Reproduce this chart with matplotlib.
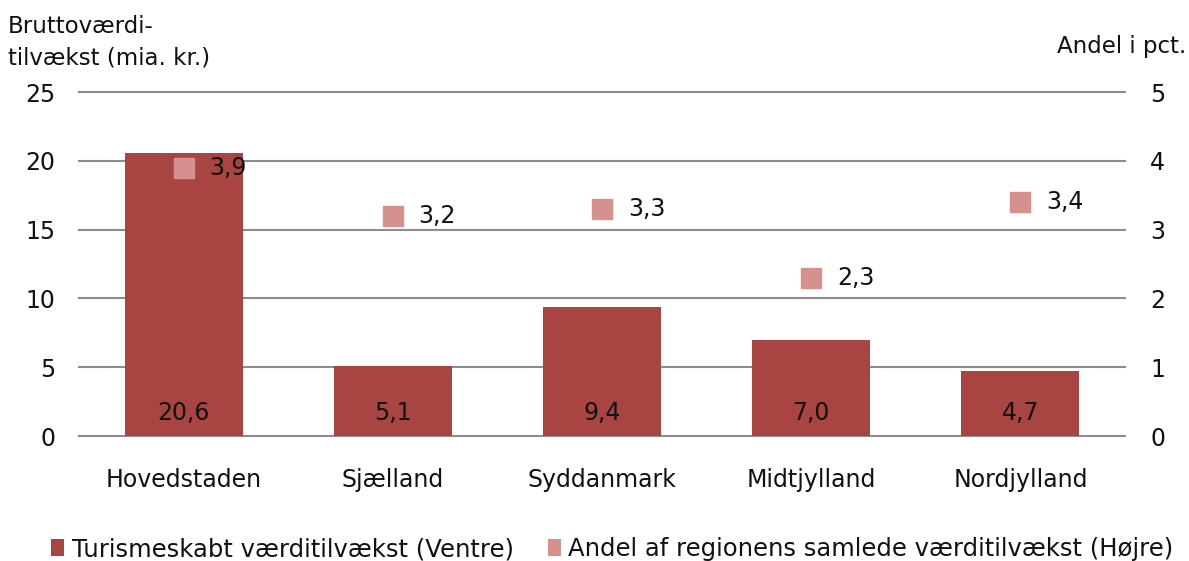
import matplotlib
matplotlib.use("Agg")
import matplotlib.pyplot as plt
from matplotlib.patches import Patch

categories = ["Hovedstaden", "Sjælland", "Syddanmark", "Midtjylland", "Nordjylland"]
value_bn = [20.6, 5.1, 9.4, 7.0, 4.7]
share_pct = [3.9, 3.2, 3.3, 2.3, 3.4]
left_ticks = [0, 5, 10, 15, 20, 25]
right_ticks = [0, 1, 2, 3, 4, 5]

plt.rcParams['font.family'] = ['DejaVu Sans']
FS = 17
bar_color = "#A84542"
mk_color = "#D6908E"
txt_color = "#111111"

W, H = 1189, 561
fig = plt.figure(figsize=(W / 100, H / 100), dpi=100)
ax = fig.add_axes([79 / W, 1 - 436 / H, (1125 - 79) / W, (436 - 92) / H])
ax2 = ax.twinx()

x = list(range(len(categories)))
ax.bar(x, value_bn, width=0.565, color=bar_color, zorder=3)
ax.set_xlim(-0.5, len(categories) - 0.5)
ax.set_ylim(0, 25)
ax.set_yticks(left_ticks)
ax.set_yticklabels([str(t) for t in left_ticks])
ax.yaxis.grid(True, color="#8c8c8c", linewidth=1.5, zorder=0)
for gl in ax.get_ygridlines():
    gl.set_clip_on(False)
ax.set_axisbelow(True)
for s in ax.spines.values():
    s.set_visible(False)
for s in ax2.spines.values():
    s.set_visible(False)
ax.tick_params(axis='y', length=0, labelsize=FS, pad=17, labelcolor=txt_color)
ax.tick_params(axis='x', length=0, labelsize=FS, pad=23, labelcolor=txt_color)
ax.set_xticks(x)
ax.set_xticklabels(categories)

for xi, v in zip(x, value_bn):
    ax.text(xi, 1.7, f"{v:.1f}".replace(".", ","), ha="center", va="center",
            fontsize=FS, color=txt_color, zorder=5)

ax2.set_ylim(0, 5)
ax2.set_yticks(right_ticks)
ax2.set_yticklabels([str(t) for t in right_ticks])
ax2.tick_params(axis='y', length=0, labelsize=FS, pad=18, labelcolor=txt_color)
ax2.plot(x, share_pct, linestyle="none", marker="s", markersize=14.5,
         color=mk_color, zorder=4)
for xi, v in zip(x, share_pct):
    ax2.text(xi + 0.124, v, f"{v:.1f}".replace(".", ","), ha="left",
             va="center", fontsize=FS, color=txt_color, zorder=5)

fig.text(8 / W, 1 - 15 / H, "Bruttoværdi-\ntilvækst (mia. kr.)", ha="left",
         va="top", fontsize=16.5, linespacing=1.45, color=txt_color)
fig.text(1186 / W, 1 - 46 / H, "Andel i pct.", ha="right", va="center",
         fontsize=16.5, color=txt_color)

handles = [Patch(facecolor=bar_color, edgecolor="none"),
           Patch(facecolor=mk_color, edgecolor="none")]
labels = ["Turismeskabt værditilvækst (Ventre)",
          "Andel af regionens samlede værditilvækst (Højre)"]
fig.legend(handles, labels, loc="center", bbox_to_anchor=(0.515, 1 - 549 / H),
           ncol=2, frameon=False, fontsize=17.5, handlelength=0.55, handleheight=0.75,
           handletextpad=0.3, columnspacing=1.4, borderaxespad=0, borderpad=0,
           labelcolor=txt_color)

fig.savefig("out.png", dpi=100)
